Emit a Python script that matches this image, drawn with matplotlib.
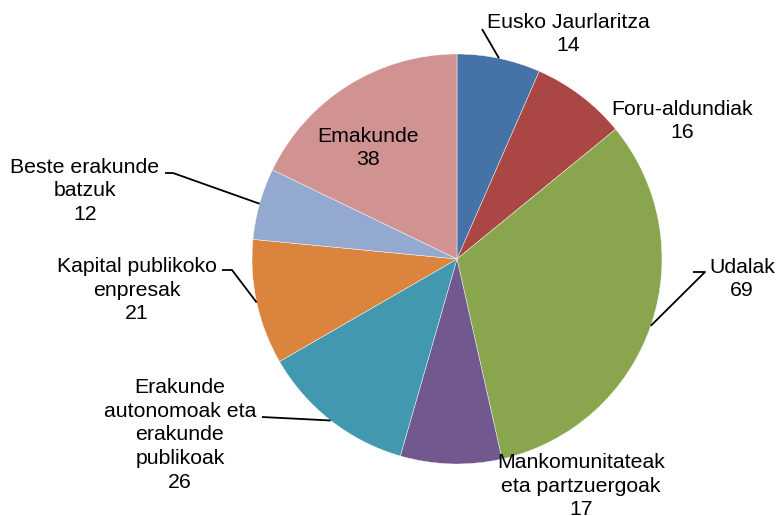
import numpy as np
import matplotlib
matplotlib.use("Agg")
import matplotlib.pyplot as plt

labels = ["Eusko Jaurlaritza", "Foru-aldundiak", "Udalak",
          "Mankomunitateak\neta partzuergoak",
          "Erakunde\nautonomoak eta\nerakunde\npublikoak",
          "Kapital publikoko\nenpresak", "Beste erakunde\nbatzuk", "Emakunde"]
values = [14, 16, 69, 17, 26, 21, 12, 38]
colors = ["#4572A7", "#AA4643", "#89A54E", "#71588F", "#4198AF",
          "#DB843D", "#93A9CF", "#D19392"]

W, H = 777, 516
fig = plt.figure(figsize=(W / 100, H / 100), dpi=100)
ax = fig.add_axes([0, 0, 1, 1])

cx, cy, r = 457, H - 259, 205
wedges, _ = ax.pie(values, colors=colors, startangle=90, counterclock=False,
                   center=(cx, cy), radius=r, frame=True,
                   wedgeprops=dict(edgecolor="white", linewidth=0.3))
ax.set_xlim(0, W)
ax.set_ylim(0, H)
ax.set_aspect("equal")
ax.axis("off")

# label text centers (pixel coords, y from top)
text_pos = [(568, 34), (682, 121), (742, 279), (581, 486), (180, 435),
            (137, 290), (85, 191), (368, 148)]
# leader line: text-side points (pixel coords), None = no line
leaders = [[(482, 29)], None, [(705, 272), (693, 272)], None, [(262, 417)],
           [(232, 270), (222, 270)], [(173, 173), (165, 173)], None]

font = dict(family=["Liberation Sans", "DejaVu Sans"], size=15.3, color="black")
total = sum(values)
cum = 0
for i, v in enumerate(values):
    mid = cum + v / 2
    cum += v
    ang = np.deg2rad(90 - mid / total * 360)
    ex, ey = cx + r * np.cos(ang), cy + r * np.sin(ang)
    tx, ty = text_pos[i]
    ax.text(tx, H - ty, f"{labels[i]}\n{v}", ha="center", va="center",
            multialignment="center", linespacing=1.33, **font)
    if leaders[i]:
        pts = [(ex, ey)] + [(px, H - py) for px, py in leaders[i]]
        xs, ys = zip(*pts)
        ax.plot(xs, ys, color="black", lw=1.3, solid_capstyle="butt")

fig.savefig("out.png", dpi=100, facecolor="white")
